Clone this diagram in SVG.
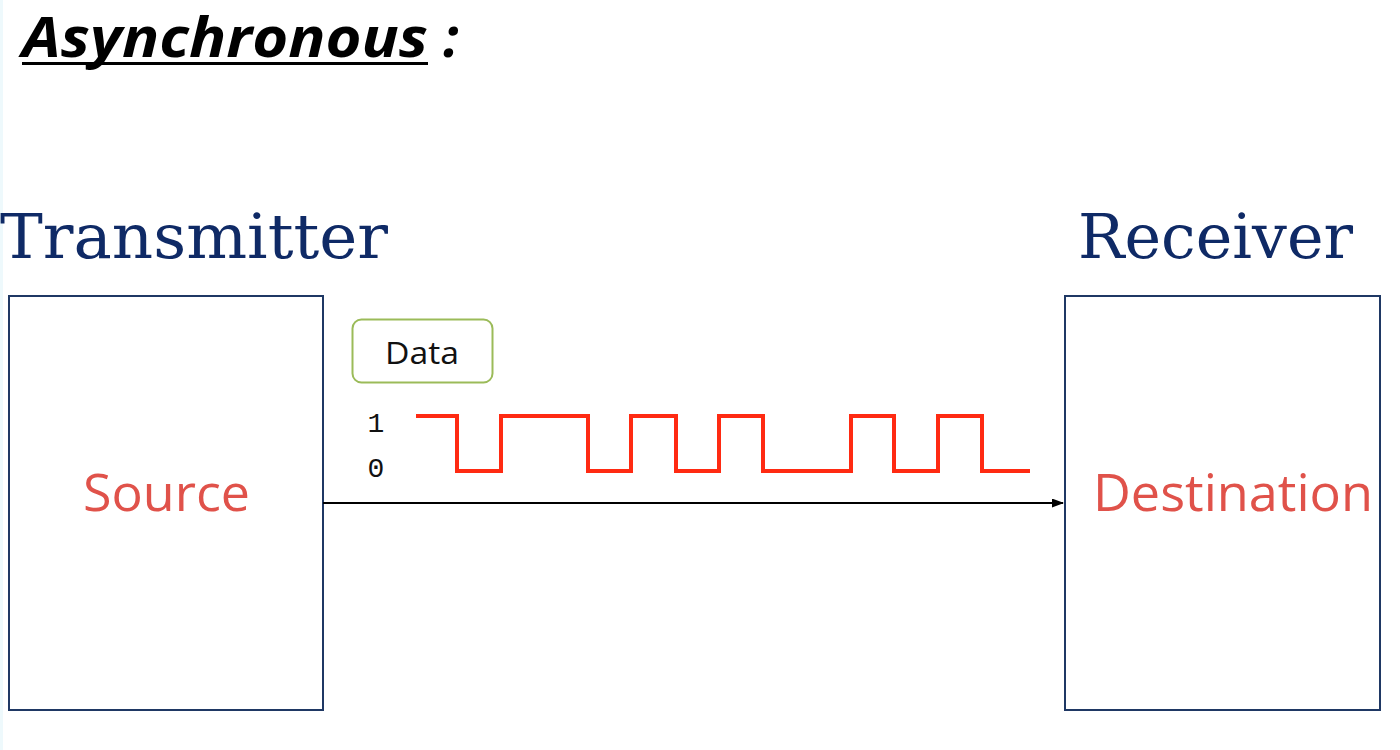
<svg xmlns="http://www.w3.org/2000/svg" width="1400" height="750" viewBox="0 0 1400 750">
<style>
.box{fill:#fff;stroke:#1F3864;stroke-width:2}
.head{font-family:"DejaVu Serif","Liberation Serif",serif;font-size:62px;fill:#0F2A66}
.lbl{font-family:"Open Sans","Noto Sans",sans-serif;font-size:52px;fill:#E0524A}
.bit{font-family:"Liberation Mono","DejaVu Sans Mono",monospace;font-size:28px;fill:#111}
</style>
<defs>
<marker id="arr" markerWidth="12" markerHeight="9" refX="11" refY="4.5" orient="auto" markerUnits="userSpaceOnUse">
<path d="M0,0 L12,4.5 L0,9 Z" fill="#000"/>
</marker>
</defs>
<rect width="1400" height="750" fill="#fff"/>
<rect x="0" y="0" width="3" height="750" fill="#EEF9FC"/>
<g id="title">
<text x="22" y="57" font-family="Open Sans,Noto Sans,sans-serif" font-weight="bold" font-style="italic" font-size="55" fill="#000" textLength="406" lengthAdjust="spacingAndGlyphs">Asynchronous</text>
<rect x="22" y="62" width="406" height="3" fill="#000"/>
<text x="443" y="57" font-family="Open Sans,Noto Sans,sans-serif" font-weight="bold" font-style="italic" font-size="55" fill="#000">:</text>
</g>
<g id="transmitter">
<text class="head" x="0" y="258" textLength="388" lengthAdjust="spacingAndGlyphs">Transmitter</text>
<rect class="box" x="9" y="296" width="314" height="414"/>
<text class="lbl" x="83" y="511" textLength="167" lengthAdjust="spacingAndGlyphs">Source</text>
</g>
<g id="receiver">
<text class="head" x="1078" y="258" textLength="275" lengthAdjust="spacingAndGlyphs">Receiver</text>
<rect class="box" x="1065" y="296" width="315" height="414"/>
<text class="lbl" x="1093" y="511" textLength="280" lengthAdjust="spacingAndGlyphs">Destination</text>
</g>
<g id="data">
<rect x="352.5" y="319.5" width="140" height="63" rx="9" fill="#fff" stroke="#9BBB59" stroke-width="2"/>
<text x="385" y="364" font-family="Open Sans,Noto Sans,sans-serif" font-size="31" fill="#111" textLength="74" lengthAdjust="spacingAndGlyphs">Data</text>
</g>
<g id="signal">
<text class="bit" x="376" y="432" text-anchor="middle">1</text>
<text class="bit" x="376" y="477" text-anchor="middle">0</text>
<polyline fill="none" stroke="#FF2A12" stroke-width="4" points="416,416 457,416 457,471 501,471 501,416 588,416 588,471 631,471 631,416 676,416 676,471 719,471 719,416 763,416 763,471 851,471 851,416 894,416 894,471 938,471 938,416 982,416 982,471 1030,471"/>
</g>
<g id="connectors">
<line x1="323" y1="503" x2="1063" y2="503" stroke="#000" stroke-width="2" marker-end="url(#arr)"/>
</g>
</svg>
